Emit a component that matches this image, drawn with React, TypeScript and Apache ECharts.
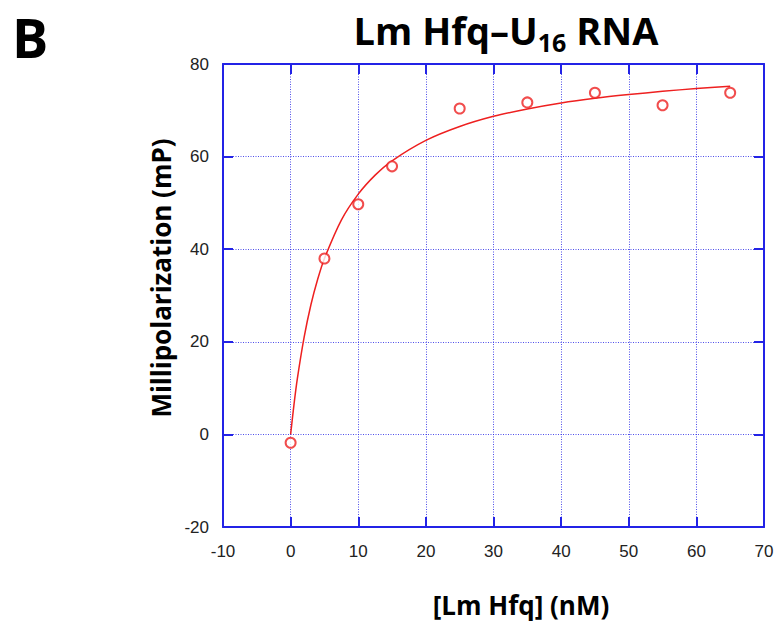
import React, { useEffect, useRef } from "react";
import * as echarts from "echarts";

// Measured data points: [Lm Hfq] (nM) vs millipolarization (mP)
const concentrations = [0, 5, 10, 15, 25, 35, 45, 55, 65];
const polarization = [-1.8, 38.0, 49.7, 57.9, 70.4, 71.7, 73.8, 71.1, 73.8];

// Fitted binding curve
const fitX = [0, 0.5, 1, 2, 3, 4, 5, 7.5, 10, 12.5, 15, 20, 25, 30, 35, 40, 45, 50, 55, 60, 65];
const fitY = [0, 6.5, 12.1, 21.0, 28.0, 33.5, 38.0, 46.3, 51.9, 56.0, 59.1, 63.5, 66.5, 68.7, 70.3, 71.6, 72.6, 73.4, 74.1, 74.7, 75.2];

const xTicks = { min: -10, max: 70, interval: 10 };
const yTicks = { min: -20, max: 80, interval: 20 };

const BLUE = "#2323e6";
const RED = "#ee2020";
const BOLD_FONT = "'Open Sans', 'Liberation Sans', sans-serif";
const TICK_FONT = "'Liberation Sans', Arial, sans-serif";

export default function App() {
  const ref = useRef<HTMLDivElement>(null);
  useEffect(() => {
    document.body.style.margin = "0";
    if (!ref.current) return;
    const chart = echarts.init(ref.current, undefined, { renderer: "svg" });
    const axisCommon = {
      type: "value" as const,
      axisLine: { show: true, onZero: false, lineStyle: { color: BLUE, width: 2 } },
      axisTick: { show: true, inside: true, length: 10, lineStyle: { color: BLUE, width: 2 } },
    };
    const gridLine = { show: true, lineStyle: { color: BLUE, width: 1, type: [1, 1.5], opacity: 0.8 } };
    chart.setOption({
      animation: false,
      backgroundColor: "#ffffff",
      grid: { left: 223, right: 15, top: 64, bottom: 98, containLabel: false },
      xAxis: [
        {
          ...axisCommon,
          position: "bottom",
          ...xTicks,
          axisLabel: { color: "#222", fontSize: 17, margin: 16, fontFamily: TICK_FONT },
          splitLine: gridLine,
        },
        {
          ...axisCommon,
          position: "top",
          ...xTicks,
          axisLabel: { show: false },
          splitLine: { show: false },
        },
      ],
      yAxis: [
        {
          ...axisCommon,
          position: "left",
          ...yTicks,
          axisLabel: { color: "#222", fontSize: 17, margin: 14, fontFamily: TICK_FONT },
          splitLine: gridLine,
        },
        {
          ...axisCommon,
          position: "right",
          ...yTicks,
          axisLabel: { show: false },
          splitLine: { show: false },
        },
      ],
      series: [
        {
          type: "line",
          data: fitX.map((x, i) => [x, fitY[i]]),
          showSymbol: false,
          smooth: 0.3,
          lineStyle: { color: RED, width: 1.5 },
          z: 3,
        },
        {
          type: "scatter",
          data: concentrations.map((x, i) => [x, polarization[i]]),
          symbol: "emptyCircle",
          symbolSize: 10,
          itemStyle: { color: RED, borderColor: RED, borderWidth: 1.6 },
          z: 4,
        },
      ],
      graphic: [
        {
          type: "text",
          left: 12,
          top: 10,
          style: { text: "B", font: `bold 54px ${BOLD_FONT}`, fill: "#000" },
        },
        {
          type: "text",
          x: 506,
          y: 30,
          style: {
            text: "{a|Lm Hfq–U}{s|16}{a| RNA}",
            align: "center",
            verticalAlign: "middle",
            rich: {
              a: { font: `bold 38px ${BOLD_FONT}`, fill: "#000", verticalAlign: "middle" },
              s: { font: `bold 25px ${BOLD_FONT}`, fill: "#000", padding: [24, 0, 0, 0] },
            },
          },
        },
        {
          type: "text",
          x: 161,
          y: 278,
          rotation: Math.PI / 2,
          style: {
            text: "Millipolarization (mP)",
            font: `bold 26px ${BOLD_FONT}`,
            fill: "#000",
            align: "center",
            verticalAlign: "middle",
          },
        },
        {
          type: "text",
          x: 521,
          y: 605,
          style: {
            text: "[Lm Hfq] (nM)",
            font: `bold 26px ${BOLD_FONT}`,
            fill: "#000",
            align: "center",
            verticalAlign: "middle",
          },
        },
      ],
    });
    return () => chart.dispose();
  }, []);
  return <div ref={ref} style={{ width: 779, height: 625 }} />;
}
